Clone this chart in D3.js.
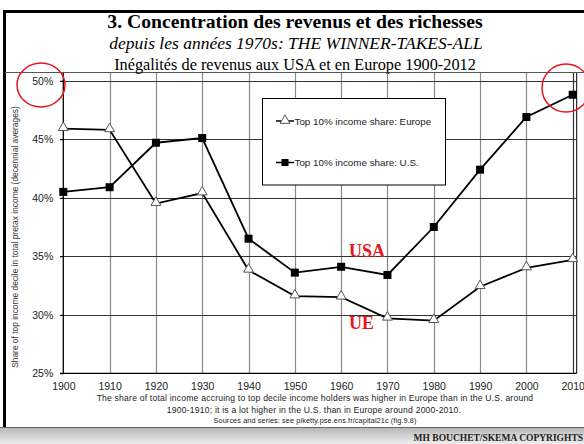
<!DOCTYPE html>
<html>
<head>
<meta charset="utf-8">
<script src="https://cdn.jsdelivr.net/npm/d3@7"></script>
<style>
  body { margin: 0; background: #fff; }
  svg { display: block; }
</style>
</head>
<body>
<div id="chart"></div>
<script>
var years = [1900, 1910, 1920, 1930, 1940, 1950, 1960, 1970, 1980, 1990, 2000, 2010];
var europe = [45.9, 45.8, 39.5, 40.4, 33.8, 31.6, 31.5, 29.7, 29.5, 32.4, 34.0, 34.7];
var usa = [40.5, 40.9, 44.7, 45.1, 36.5, 33.6, 34.1, 33.4, 37.5, 42.4, 46.9, 48.8];
var yTicks = [25, 30, 35, 40, 45, 50];
var seriesNames = ['Top 10% income share: Europe', 'Top 10% income share: U.S.'];

var W = 584, H = 444;
var svg = d3.select('#chart').append('svg')
  .attr('width', W).attr('height', H);

var x = d3.scaleLinear().domain([1900, 2010]).range([63.3, 572.7]);
var y = d3.scaleLinear().domain([25, 50]).range([373.3, 80.7]);

// slide frame
svg.append('line').attr('x1', 4).attr('x2', W).attr('y1', 11.5).attr('y2', 11.5)
  .attr('stroke', '#000').attr('stroke-width', 3);
svg.append('line').attr('x1', 4.5).attr('x2', 4.5).attr('y1', 10).attr('y2', 428)
  .attr('stroke', '#000').attr('stroke-width', 3);
svg.append('line').attr('x1', 5).attr('x2', W).attr('y1', 72.5).attr('y2', 72.5)
  .attr('stroke', '#555').attr('stroke-width', 1.2);

// bottom band
var grad = svg.append('defs').append('linearGradient')
  .attr('id', 'band').attr('x1', 0).attr('x2', 0).attr('y1', 0).attr('y2', 1);
grad.append('stop').attr('offset', '0%').attr('stop-color', '#b8b8b8');
grad.append('stop').attr('offset', '100%').attr('stop-color', '#eeeeee');
svg.append('rect').attr('x', 0).attr('y', 428).attr('width', W).attr('height', 16)
  .attr('fill', 'url(#band)');
svg.append('line').attr('x1', 0).attr('x2', W).attr('y1', 427.5).attr('y2', 427.5)
  .attr('stroke', '#666').attr('stroke-width', 1);
svg.append('text').attr('x', 583).attr('y', 441).attr('text-anchor', 'end')
  .style('font-family', 'Liberation Serif').style('font-weight', 'bold').style('font-size', '9.5px')
  .attr('fill', '#222').text('MH BOUCHET/SKEMA COPYRIGHTS');

// titles
svg.append('text').attr('x', 295).attr('y', 28).attr('text-anchor', 'middle')
  .style('font-family', 'Liberation Serif').style('font-weight', 'bold').style('font-size', '19.7px')
  .text('3. Concentration des revenus et des richesses');
svg.append('text').attr('x', 296).attr('y', 49).attr('text-anchor', 'middle')
  .style('font-family', 'Liberation Serif').style('font-style', 'italic').style('font-size', '17.5px')
  .text('depuis les années 1970s: THE WINNER-TAKES-ALL');
svg.append('text').attr('x', 295).attr('y', 70).attr('text-anchor', 'middle')
  .style('font-family', 'Liberation Serif').style('font-size', '16.3px')
  .text('Inégalités de revenus aux USA et en Europe 1900-2012');

// plot border on right
svg.append('line').attr('x1', 576.7).attr('x2', 576.7).attr('y1', 73).attr('y2', y(25))
  .attr('stroke', '#000').attr('stroke-width', 1);

// vertical grid
svg.append('g').selectAll('line').data(years.slice(1)).enter().append('line')
  .attr('x1', function (d) { return Math.round(x(d)) + 0.5; })
  .attr('x2', function (d) { return Math.round(x(d)) + 0.5; })
  .attr('y1', 73).attr('y2', y(25))
  .attr('stroke', function (d) { return d === 2010 ? '#333' : '#8a8a8a'; })
  .attr('stroke-width', 1.2);

// horizontal grid
svg.append('g').selectAll('line').data(yTicks.slice(1)).enter().append('line')
  .attr('x1', 60).attr('x2', 576.7)
  .attr('y1', function (d) { return Math.round(y(d)) + 0.5; })
  .attr('y2', function (d) { return Math.round(y(d)) + 0.5; })
  .attr('stroke', '#333').attr('stroke-width', 1);

// axes
var yAxis = d3.axisLeft(y).tickValues(yTicks).tickSize(3)
  .tickFormat(function (d) { return d + '%'; });
var gy = svg.append('g').attr('transform', 'translate(' + x(1900) + ',0)').call(yAxis);
gy.select('.domain').attr('d', 'M0,73V' + y(25)).attr('stroke', '#000').attr('stroke-width', 1.3);
gy.selectAll('text').attr('x', -10)
  .style('font-family', 'Liberation Sans').style('font-size', '10.5px').attr('fill', '#222');

var xAxis = d3.axisBottom(x).tickValues(years).tickSize(0).tickFormat(d3.format('d'));
var gx = svg.append('g').attr('transform', 'translate(0,' + y(25) + ')').call(xAxis);
gx.select('.domain').attr('d', 'M60,0H576.7').attr('stroke', '#000').attr('stroke-width', 1.3);
gx.selectAll('text').attr('y', 9)
  .style('font-family', 'Liberation Sans').style('font-size', '10.5px').attr('fill', '#222');

// y title
svg.append('text')
  .attr('transform', 'translate(18,' + 237 + ') rotate(-90)')
  .attr('text-anchor', 'middle')
  .style('font-family', 'Liberation Sans').style('font-size', '8.4px').attr('fill', '#333')
  .text('Share of top income decile in total pretax income (decennial averages)');

// captions
var capStyle = function (sel, size, ls) {
  sel.attr('text-anchor', 'middle')
    .style('font-family', 'Liberation Sans').style('font-size', size)
    .style('letter-spacing', ls).attr('fill', '#222');
};
svg.append('text').attr('x', 315).attr('y', 401)
  .call(capStyle, '8.6px', '0.2px')
  .text('The share of total income accruing to top decile income holders was higher in Europe than in the U.S. around');
svg.append('text').attr('x', 314).attr('y', 413)
  .call(capStyle, '8.6px', '0.2px')
  .text('1900-1910; it is a lot higher in the U.S. than in Europe around 2000-2010.');
svg.append('text').attr('x', 315).attr('y', 423)
  .call(capStyle, '7.3px', '0.1px')
  .text('Sources and series: see piketty.pse.ens.fr/capital21c (fig.9.8)');

// lines
var line = d3.line()
  .x(function (d, i) { return x(years[i]); })
  .y(function (d) { return y(d); });

svg.append('path').attr('d', line(europe))
  .attr('fill', 'none').attr('stroke', '#000').attr('stroke-width', 1.8);
svg.append('path').attr('d', line(usa))
  .attr('fill', 'none').attr('stroke', '#000').attr('stroke-width', 1.8);

var tri = d3.symbol().type(d3.symbolTriangle).size(42);
svg.append('g').selectAll('path').data(europe).enter().append('path')
  .attr('d', tri)
  .attr('transform', function (d, i) { return 'translate(' + x(years[i]) + ',' + (y(d) - 1) + ')'; })
  .attr('fill', '#fff').attr('stroke', '#555').attr('stroke-width', 1);

svg.append('g').selectAll('rect').data(usa).enter().append('rect')
  .attr('x', function (d, i) { return x(years[i]) - 4; })
  .attr('y', function (d) { return y(d) - 4; })
  .attr('width', 8).attr('height', 8).attr('fill', '#000');

// legend
var lg = svg.append('g');
lg.append('rect').attr('x', 262.5).attr('y', 98.5).attr('width', 183).attr('height', 86.5)
  .attr('fill', '#fff').attr('stroke', '#000').attr('stroke-width', 1);
var legendY = [121, 162.5];
seriesNames.forEach(function (name, i) {
  var ly = legendY[i];
  lg.append('line').attr('x1', 276).attr('x2', 294).attr('y1', ly).attr('y2', ly)
    .attr('stroke', '#000').attr('stroke-width', 1.5);
  if (i === 0) {
    lg.append('path').attr('d', tri).attr('transform', 'translate(285,' + (ly - 0.5) + ')')
      .attr('fill', '#fff').attr('stroke', '#555').attr('stroke-width', 1);
  } else {
    lg.append('rect').attr('x', 281.5).attr('y', ly - 3.5).attr('width', 7).attr('height', 7)
      .attr('fill', '#000');
  }
  lg.append('text').attr('x', 294.5).attr('y', ly + 3.5)
    .style('font-family', 'Liberation Sans').style('font-size', '9.8px')
    .attr('fill', '#222')
    .text(name);
});

// annotations
svg.append('text').attr('x', 349).attr('y', 257)
  .style('font-family', 'Liberation Serif').style('font-weight', 'bold').style('font-size', '18px')
  .attr('fill', '#e8141b').text('USA');
svg.append('text').attr('x', 349).attr('y', 329)
  .style('font-family', 'Liberation Serif').style('font-weight', 'bold').style('font-size', '18px')
  .attr('fill', '#e8141b').text('UE');

svg.append('ellipse').attr('cx', 41).attr('cy', 85).attr('rx', 24).attr('ry', 22)
  .attr('fill', 'none').attr('stroke', '#e8141b').attr('stroke-width', 1.5);
svg.append('ellipse').attr('cx', 566).attr('cy', 88).attr('rx', 24).attr('ry', 24)
  .attr('fill', 'none').attr('stroke', '#e8141b').attr('stroke-width', 1.5);
</script>
</body>
</html>
